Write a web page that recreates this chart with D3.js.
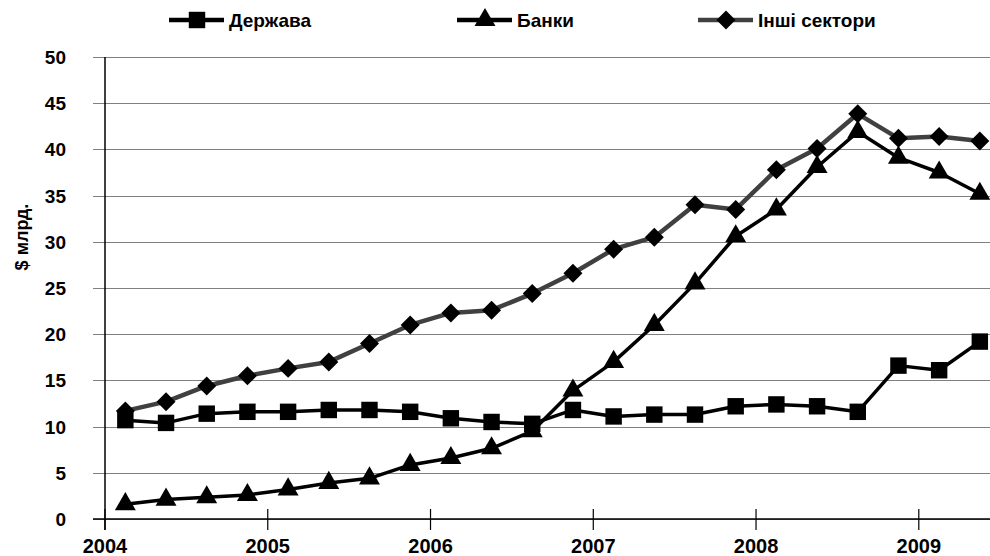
<!DOCTYPE html>
<html>
<head>
<meta charset="utf-8">
<script src="https://cdn.jsdelivr.net/npm/d3@7"></script>
<style>
  body { margin: 0; background: #fff; }
  svg { display: block; font-family: "Liberation Sans", Arial, sans-serif; font-weight: bold; }
</style>
</head>
<body>
<div id="chart"></div>
<script>
// quarterly observations, Q1 2004 .. Q2 2009
const quarters = [
  "2004 I", "2004 II", "2004 III", "2004 IV",
  "2005 I", "2005 II", "2005 III", "2005 IV",
  "2006 I", "2006 II", "2006 III", "2006 IV",
  "2007 I", "2007 II", "2007 III", "2007 IV",
  "2008 I", "2008 II", "2008 III", "2008 IV",
  "2009 I", "2009 II"
];
const years = ["2004", "2005", "2006", "2007", "2008", "2009"];
const yTicks = [0, 5, 10, 15, 20, 25, 30, 35, 40, 45, 50];

const derzhava = [10.7, 10.4, 11.4, 11.6, 11.6, 11.8, 11.8, 11.6, 10.9, 10.5, 10.3,
  11.8, 11.1, 11.3, 11.3, 12.2, 12.4, 12.2, 11.6, 16.6, 16.1, 19.2];
const banky = [1.6, 2.1, 2.35, 2.6, 3.2, 3.9, 4.4, 5.85, 6.6, 7.65, 9.5,
  13.9, 17.0, 21.0, 25.5, 30.6, 33.5, 38.1, 41.9, 39.1, 37.5, 35.2];
const inshi = [11.7, 12.7, 14.4, 15.5, 16.3, 17.0, 19.0, 21.0, 22.3, 22.6, 24.4,
  26.6, 29.2, 30.5, 34.0, 33.5, 37.8, 40.1, 43.85, 41.2, 41.4, 40.9];

// diamond = square turned by 45 degrees
const series = [
  { name: "Держава", values: derzhava, color: "#000", symbol: d3.symbolSquare, size: 270, rot: 0, legendX: 169 },
  { name: "Банки", values: banky, color: "#000", symbol: d3.symbolTriangle, size: 190, rot: 0, legendX: 457 },
  { name: "Інші сектори", values: inshi, color: "#404040", symbol: d3.symbolSquare, size: 180, rot: 45, legendX: 698 }
];

const width = 990, height = 556;
const plotLeft = 105, plotBottom = 519, plotTop = 57;
const step = 40.69;

const svg = d3.select("#chart").append("svg")
  .attr("width", width)
  .attr("height", height);

const x = d3.scaleBand()
  .domain(quarters)
  .range([plotLeft, plotLeft + step * quarters.length])
  .padding(0);
const y = d3.scaleLinear().domain([0, 50]).range([plotBottom, plotTop]);
const cx = (i) => x(quarters[i]) + x.bandwidth() / 2;

// gridlines + y labels
svg.append("g").selectAll("line").data(yTicks).enter().append("line")
  .attr("x1", 93).attr("x2", width)
  .attr("y1", (d) => Math.round(y(d)) + 0.5).attr("y2", (d) => Math.round(y(d)) + 0.5)
  .attr("stroke", "#808080").attr("stroke-width", 1.2);

svg.append("g").selectAll("text").data(yTicks).enter().append("text")
  .attr("x", 66).attr("y", (d) => y(d) + 7)
  .attr("text-anchor", "end")
  .style("font-size", "19px")
  .text((d) => d);

// axes lines
svg.append("line").attr("x1", plotLeft).attr("x2", plotLeft).attr("y1", plotTop).attr("y2", 530)
  .attr("stroke", "#000").attr("stroke-width", 1.5);
svg.append("line").attr("x1", 93).attr("x2", width).attr("y1", plotBottom).attr("y2", plotBottom)
  .attr("stroke", "#000").attr("stroke-width", 1.5);

// year ticks on quarter boundaries
svg.append("g").selectAll("line").data(years).enter().append("line")
  .attr("x1", (d, i) => x(quarters[i * 4])).attr("x2", (d, i) => x(quarters[i * 4]))
  .attr("y1", 509).attr("y2", 530)
  .attr("stroke", "#000").attr("stroke-width", 1.2);

svg.append("g").selectAll("text").data(years).enter().append("text")
  .attr("x", (d, i) => x(quarters[i * 4]))
  .attr("y", 553)
  .attr("text-anchor", "middle")
  .style("font-size", "20px")
  .text((d) => d);

// y title
svg.append("text")
  .attr("transform", "translate(28, 237) rotate(-90)")
  .attr("text-anchor", "middle")
  .style("font-size", "18px")
  .text("$ млрд.");

const line = d3.line().x((d, i) => cx(i)).y((d) => y(d));

series.forEach((s) => {
  const g = svg.append("g");
  g.append("path")
    .attr("d", line(s.values))
    .attr("fill", "none")
    .attr("stroke", s.color)
    .attr("stroke-width", s.color === "#000" ? 3.5 : 4.5)
    .attr("stroke-linejoin", "round");
  g.selectAll("path.m").data(s.values).enter().append("path")
    .attr("class", "m")
    .attr("d", d3.symbol().type(s.symbol).size(s.size))
    .attr("transform", (d, i) => `translate(${cx(i)},${y(d)}) rotate(${s.rot})`)
    .attr("fill", "#000");

  // legend
  const lg = svg.append("g");
  lg.append("line")
    .attr("x1", s.legendX).attr("x2", s.legendX + 55)
    .attr("y1", 20).attr("y2", 20)
    .attr("stroke", s.color).attr("stroke-width", 4.5);
  lg.append("path")
    .attr("d", d3.symbol().type(s.symbol).size(s.size))
    .attr("transform", `translate(${s.legendX + 28},20) rotate(${s.rot})`)
    .attr("fill", "#000");
  lg.append("text")
    .attr("x", s.legendX + 60).attr("y", 27)
    .style("font-size", "19px")
    .text(s.name);
});
</script>
</body>
</html>
